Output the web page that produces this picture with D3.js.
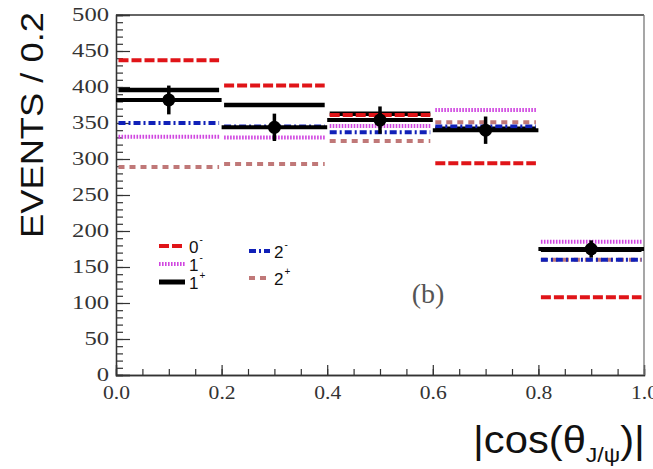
<!DOCTYPE html>
<html>
<head>
<meta charset="utf-8">
<script src="https://cdn.jsdelivr.net/npm/d3@7"></script>
<style>
body { margin: 0; background: #fff; }
</style>
</head>
<body>
<svg id="chart" width="653" height="469"></svg>
<script>
// bins in |cos(theta_J/psi)|
var binEdges = [0.0, 0.2, 0.4, 0.6, 0.8, 1.0];
// measured events with errors
var dataVals = [382, 344, 354, 340, 175];
var dataErrs = [20, 19, 19, 19, 12];
// expectations for each J^P hypothesis
var jp0m = [437, 402, 361, 294, 108];
var jp1m = [331, 330, 346, 368, 185];
var jp1p = [396, 375, 363, 342, 174];
var jp2m = [350, 345, 337, 345, 160];
var jp2p = [289, 293, 325, 351, 160];
// ticks
var yMajor = [0, 50, 100, 150, 200, 250, 300, 350, 400, 450, 500];
var xMajor = [0.0, 0.2, 0.4, 0.6, 0.8, 1.0];
var xTickLabels = ["0.0", "0.2", "0.4", "0.6", "0.8", "1.0"];

// note: "top" is taken by window.top, so use plot* names
var svg = d3.select("#chart"),
	plotL = 116, plotR = 644, plotT = 15, plotB = 375,
	x = d3.scaleLinear().domain([0, 1]).range([plotL, plotR]),
	y = d3.scaleLinear().domain([0, 500]).range([plotB, plotT]);

var models = [
	{ name: "1", sup: "+", vals: jp1p, color: "#000000", dash: null, width: 4.5 },
	{ name: "2", sup: "+", vals: jp2p, color: "#c07878", dash: "6,5", width: 4 },
	{ name: "2", sup: "-", vals: jp2m, color: "#1020b8", dash: "7,3,2,3", width: 4 },
	{ name: "1", sup: "-", vals: jp1m, color: "#d046e0", dash: "1.6,1.4", width: 4 },
	{ name: "0", sup: "-", vals: jp0m, color: "#e01418", dash: "10,3", width: 4 }
];

// minor ticks first, then major ticks with labels
var yMinor = d3.range(0, 501, 10);
svg.append("g")
	.attr("transform", "translate(" + plotL + ",0)")
	.call(d3.axisLeft(y).tickValues(yMinor).tickSize(-7).tickFormat(""));
var yAxis = svg.append("g")
	.attr("transform", "translate(" + plotL + ",0)")
	.call(d3.axisLeft(y).tickValues(yMajor).tickSize(-14).tickPadding(7));

var xMinor = d3.range(0, 1.001, 0.05);
svg.append("g")
	.attr("transform", "translate(0," + plotB + ")")
	.call(d3.axisBottom(x).tickValues(xMinor).tickSize(-6).tickFormat(""));
var xAxis = svg.append("g")
	.attr("transform", "translate(0," + plotB + ")")
	.call(d3.axisBottom(x).tickValues(xMajor).tickSize(-10).tickPadding(11)
		.tickFormat(function(d, i) { return xTickLabels[i]; }));

svg.selectAll(".domain").attr("stroke", "#333").attr("stroke-width", 1.3);
svg.selectAll(".tick line").attr("stroke", "#333").attr("stroke-width", 1.2);

yAxis.selectAll("text")
	.attr("font-family", "Liberation Serif")
	.attr("font-size", 18)
	.attr("fill", "#333")
	.attr("textLength", function() { return this.textContent.length * 12.3; })
	.attr("lengthAdjust", "spacingAndGlyphs");
xAxis.selectAll("text")
	.attr("font-family", "Liberation Serif")
	.attr("font-size", 18)
	.attr("fill", "#333")
	.attr("textLength", 27)
	.attr("lengthAdjust", "spacingAndGlyphs");

// frame: top and right
svg.append("line").attr("x1", plotL).attr("x2", plotR).attr("y1", plotT).attr("y2", plotT)
	.attr("stroke", "#333").attr("stroke-width", 1.5);
svg.append("line").attr("x1", plotR).attr("x2", plotR).attr("y1", plotT).attr("y2", plotB)
	.attr("stroke", "#777").attr("stroke-width", 1.3);

// model lines
var bins = d3.range(dataVals.length);
models.forEach(function(m) {
	svg.append("g").selectAll("line")
		.data(bins)
		.enter().append("line")
		.attr("x1", function(i) { return x(binEdges[i]) + 2.5; })
		.attr("x2", function(i) { return x(binEdges[i + 1]) - 2.5; })
		.attr("y1", function(i) { return y(m.vals[i]); })
		.attr("y2", function(i) { return y(m.vals[i]); })
		.attr("stroke", m.color)
		.attr("stroke-width", m.width)
		.attr("stroke-dasharray", m.dash);
});

// data points
var pts = svg.append("g").selectAll("g")
	.data(bins)
	.enter().append("g");
pts.append("line")
	.attr("x1", function(i) { return x(binEdges[i]); })
	.attr("x2", function(i) { return x(binEdges[i + 1]); })
	.attr("y1", function(i) { return y(dataVals[i]); })
	.attr("y2", function(i) { return y(dataVals[i]); })
	.attr("stroke", "#000").attr("stroke-width", 4);
pts.append("line")
	.attr("x1", function(i) { return x((binEdges[i] + binEdges[i + 1]) / 2); })
	.attr("x2", function(i) { return x((binEdges[i] + binEdges[i + 1]) / 2); })
	.attr("y1", function(i) { return y(dataVals[i] - dataErrs[i]); })
	.attr("y2", function(i) { return y(dataVals[i] + dataErrs[i]); })
	.attr("stroke", "#000").attr("stroke-width", 3.5);
pts.append("circle")
	.attr("cx", function(i) { return x((binEdges[i] + binEdges[i + 1]) / 2); })
	.attr("cy", function(i) { return y(dataVals[i]); })
	.attr("r", 6.5)
	.attr("fill", "#000");

// legend: two columns
var legendOrder = [4, 3, 0, 2, 1];
var legendPos = [[159, 246], [159, 264], [159, 282], [249, 251], [249, 278]];
legendOrder.forEach(function(mi, k) {
	var m = models[mi], p = legendPos[k],
		len = k < 3 ? 26 : 21,
		tx = p[0] + len + 4;
	svg.append("line")
		.attr("x1", p[0]).attr("x2", p[0] + len)
		.attr("y1", p[1]).attr("y2", p[1])
		.attr("stroke", m.color)
		.attr("stroke-width", mi == 0 ? 5 : 4)
		.attr("stroke-dasharray", m.dash);
	svg.append("text")
		.attr("x", tx)
		.attr("y", p[1] + 7)
		.attr("font-family", "Liberation Sans")
		.attr("font-size", 17)
		.attr("fill", "#111")
		.attr("textLength", 9.5)
		.attr("lengthAdjust", "spacingAndGlyphs")
		.text(m.name);
	svg.append("text")
		.attr("x", tx + 10.5)
		.attr("y", p[1] - 3)
		.attr("font-family", "Liberation Sans")
		.attr("font-size", 10)
		.attr("fill", "#111")
		.text(m.sup);
});

// (b)
svg.append("text")
	.attr("x", 428).attr("y", 303)
	.attr("text-anchor", "middle")
	.attr("font-family", "Liberation Serif")
	.attr("font-size", 28)
	.attr("fill", "#555")
	.text("(b)");

// y title
svg.append("text")
	.attr("transform", "translate(43,238) rotate(-90)")
	.attr("font-family", "Liberation Sans")
	.attr("font-size", 32)
	.attr("fill", "#111")
	.attr("textLength", 226)
	.attr("lengthAdjust", "spacingAndGlyphs")
	.text("EVENTS / 0.2");

// x title
var xt = svg.append("text")
	.attr("x", 0).attr("y", 0)
	.attr("font-family", "Liberation Sans")
	.attr("font-size", 38)
	.attr("fill", "#111");
xt.append("tspan").text("|cos(\u03B8");
xt.append("tspan").text("J/\u03C8").attr("font-size", 21).attr("dy", 9);
xt.append("tspan").text(")|").attr("dy", -9);
var bb = xt.node().getBBox();
var sx = 172 / bb.width;
xt.attr("transform", "translate(" + (473 - bb.x * sx) + ",453) scale(" + sx + ",1)");
</script>
</body>
</html>
